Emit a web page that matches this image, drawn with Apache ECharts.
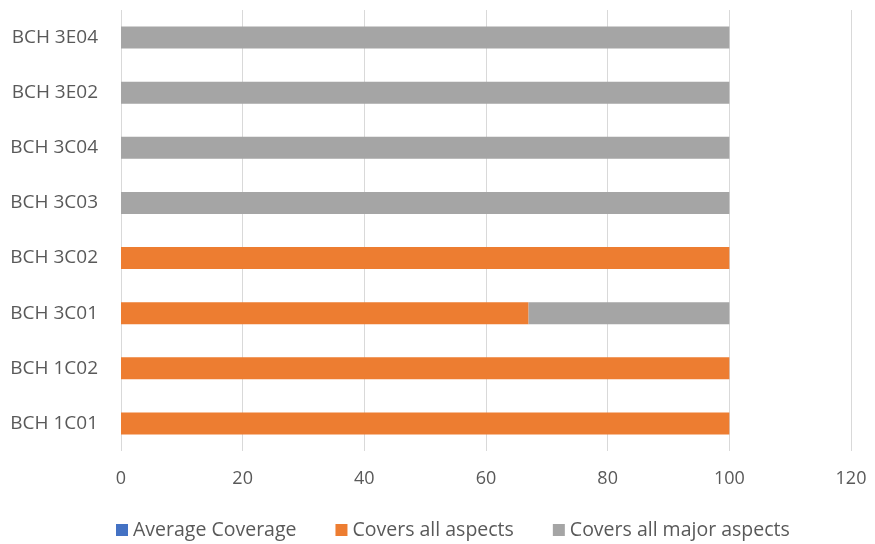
<!DOCTYPE html>
<html><head><meta charset="utf-8">
<script src="https://cdn.jsdelivr.net/npm/echarts@6/dist/echarts.min.js"></script>
<style>html,body{margin:0;padding:0;background:#fff}#c{width:875px;height:544px}</style>
</head><body><div id="c"></div>
<script>
const categories = ['BCH 1C01','BCH 1C02','BCH 3C01','BCH 3C02','BCH 3C03','BCH 3C04','BCH 3E02','BCH 3E04'];
const averageCoverage = [0,0,0,0,0,0,0,0];
const coversAllAspects = [100,100,67,100,0,0,0,0];
const coversAllMajorAspects = [0,0,33,0,100,100,100,100];
const xTicks = {min:0, max:120, interval:20};

const font = '"Open Sans", "Liberation Sans", sans-serif';
const chart = echarts.init(document.getElementById('c'));
chart.setOption({
  animation:false,
  grid:{left:121, right:24, top:10, bottom:93, containLabel:false},
  legend:{
    top:515, left:111, itemWidth:12, itemHeight:12, itemGap:39,
    icon:'rect',
    textStyle:{color:'#595959', fontSize:19.5, fontFamily:font},
    data:['Average Coverage','Covers all aspects','Covers all major aspects']
  },
  xAxis:{
    type:'value', min:xTicks.min, max:xTicks.max, interval:xTicks.interval,
    axisLine:{show:false}, axisTick:{show:false},
    axisLabel:{color:'#595959', fontSize:18, fontFamily:font, margin:19},
    splitLine:{lineStyle:{color:'#d9d9d9', width:1}}
  },
  yAxis:{
    type:'category', data:categories,
    axisLine:{show:false}, axisTick:{show:false},
    axisLabel:{color:'#595959', fontSize:19, fontFamily:font, margin:23},
    splitLine:{show:false}
  },
  series:[
    {name:'Average Coverage', type:'bar', stack:'s', data:averageCoverage, barWidth:22, itemStyle:{color:'#4472c4'}},
    {name:'Covers all aspects', type:'bar', stack:'s', data:coversAllAspects, barWidth:22, itemStyle:{color:'#ed7d31'}},
    {name:'Covers all major aspects', type:'bar', stack:'s', data:coversAllMajorAspects, barWidth:22, itemStyle:{color:'#a5a5a5'}}
  ]
});
</script></body></html>
